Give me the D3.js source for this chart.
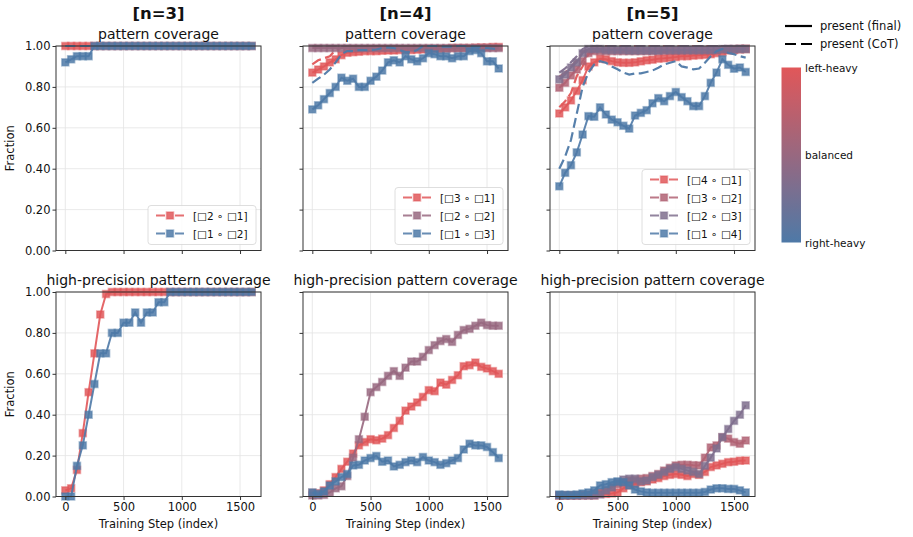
<!DOCTYPE html>
<html>
<head>
<meta charset="utf-8">
<script src="https://cdn.jsdelivr.net/npm/d3@7"></script>
<style>
  body { margin: 0; background: #fff; }
  svg { font-family: "DejaVu Sans", sans-serif; }
</style>
</head>
<body>
<svg id="mainsvg" width="913" height="537"></svg>
<script>
// training steps (x) shared by every series
const steps = [0,50,100,150,200,250,300,350,400,450,500,550,600,650,700,750,800,850,900,950,1000,1050,1100,1150,1200,1250,1300,1350,1400,1450,1500,1550,1600];
const xTicks = [0, 500, 1000, 1500];
const yTicks = [0, 0.2, 0.4, 0.6, 0.8, 1.0];
const colTitles = ['[n=3]', '[n=4]', '[n=5]'];
const rowTitles = ['pattern coverage', 'high-precision pattern coverage'];

const labels3 = ['[□2 ∘ □1]', '[□1 ∘ □2]'];
const labels4 = ['[□3 ∘ □1]', '[□2 ∘ □2]', '[□1 ∘ □3]'];
const labels5 = ['[□4 ∘ □1]', '[□3 ∘ □2]', '[□2 ∘ □3]', '[□1 ∘ □4]'];

// n=3, pattern coverage
const cov3Final21 = [1,1,1,1,1,1,1,1,1,1,1,1,1,1,1,1,1,1,1,1,1,1,1,1,1,1,1,1,1,1,1,1,1];
const cov3Final12 = [0.92,0.935,0.95,0.95,0.95,1,1,1,1,1,1,1,1,1,1,1,1,1,1,1,1,1,1,1,1,1,1,1,1,1,1,1,1];
const cov3Cot21 = [1,1,1,1,1,1,1,1,1,1,1,1,1,1,1,1,1,1,1,1,1,1,1,1,1,1,1,1,1,1,1,1,1];
const cov3Cot12 = [1,1,1,1,1,1,1,1,1,1,1,1,1,1,1,1,1,1,1,1,1,1,1,1,1,1,1,1,1,1,1,1,1];

// n=4, pattern coverage
const cov4Final31 = [0.87,0.885,0.90,0.92,0.935,0.955,0.967,0.97,0.972,0.975,0.975,0.975,0.977,0.978,0.978,0.98,0.98,0.98,0.982,0.983,0.985,0.985,0.985,0.987,0.99,0.99,0.99,0.99,0.992,0.993,0.993,0.995,0.995];
const cov4Final22 = [0.99,0.99,0.99,0.99,0.99,0.99,0.99,0.99,0.99,0.99,0.99,0.99,0.99,0.99,0.99,0.99,0.99,0.99,0.99,0.99,0.99,0.99,0.99,0.99,0.99,0.99,0.99,0.99,0.99,0.99,0.99,0.99,0.99];
const cov4Final13 = [0.69,0.71,0.74,0.77,0.80,0.845,0.83,0.84,0.80,0.80,0.83,0.85,0.88,0.92,0.93,0.92,0.95,0.935,0.925,0.94,0.965,0.96,0.95,0.95,0.94,0.95,0.95,0.975,0.98,0.965,0.925,0.925,0.89];
const cov4Cot31 = [0.91,0.93,0.94,0.95,0.98,0.99,1,1,1,1,1,1,1,1,1,1,1,1,1,1,1,1,1,1,1,1,1,1,1,1,1,1,1];
const cov4Cot22 = [1,1,1,1,1,1,1,1,1,1,1,1,1,1,1,1,1,1,1,1,1,1,1,1,1,1,1,1,1,1,1,1,1];
const cov4Cot13 = [0.82,0.84,0.86,0.885,0.92,0.96,0.975,0.975,0.98,0.98,0.98,0.983,0.99,0.993,0.99,0.98,0.97,0.97,0.98,1,1,1,0.997,0.997,0.997,1,1,0.997,0.997,0.993,0.99,0.987,0.985];

// n=5, pattern coverage
const cov5Final41 = [0.67,0.70,0.734,0.78,0.833,0.90,0.92,0.938,0.935,0.926,0.92,0.918,0.918,0.92,0.925,0.93,0.933,0.938,0.94,0.943,0.946,0.95,0.95,0.953,0.955,0.957,0.96,0.965,0.97,0.978,0.98,0.983,0.985];
const cov5Final32 = [0.796,0.82,0.856,0.885,0.926,0.965,0.975,0.975,0.975,0.975,0.975,0.975,0.975,0.975,0.975,0.975,0.975,0.975,0.977,0.977,0.977,0.977,0.978,0.978,0.978,0.98,0.98,0.98,0.982,0.985,0.985,0.987,0.987];
const cov5Final23 = [0.837,0.86,0.895,0.92,0.965,0.985,0.985,0.985,0.98,0.98,0.98,0.98,0.978,0.978,0.978,0.978,0.978,0.978,0.98,0.98,0.98,0.98,0.98,0.98,0.98,0.98,0.98,0.98,0.985,0.985,0.985,0.985,0.985];
const cov5Final14 = [0.314,0.38,0.417,0.48,0.567,0.657,0.654,0.70,0.665,0.64,0.627,0.61,0.596,0.66,0.673,0.686,0.72,0.745,0.73,0.755,0.775,0.75,0.73,0.706,0.706,0.755,0.82,0.87,0.935,0.908,0.889,0.895,0.873];
const cov5Cot41 = [0.70,0.73,0.77,0.853,0.90,0.96,0.97,0.975,0.975,0.972,0.97,0.97,0.968,0.968,0.97,0.97,0.97,0.97,0.972,0.972,0.975,0.975,0.975,0.975,0.978,0.98,0.98,0.982,0.985,0.99,0.99,0.99,0.99];
const cov5Cot32 = [0.85,0.87,0.90,0.93,0.97,0.99,1,1,1,1,1,1,1,1,1,1,1,1,1,1,1,1,1,1,1,1,1,1,1,1,1,1,1];
const cov5Cot23 = [0.87,0.89,0.92,0.95,0.985,1,1,1,1,1,1,1,1,1,1,1,1,1,1,1,1,1,1,1,1,1,1,1,1,1,1,1,1];
const cov5Cot14 = [0.40,0.46,0.54,0.67,0.80,0.87,0.91,0.926,0.918,0.90,0.886,0.87,0.86,0.866,0.866,0.873,0.88,0.894,0.91,0.918,0.926,0.90,0.894,0.886,0.89,0.918,0.95,0.975,0.985,0.966,0.96,0.95,0.943];

// high-precision pattern coverage
const hp3_21 = [0.03,0.04,0.13,0.31,0.51,0.70,0.89,0.99,1,1,1,1,1,1,1,1,1,1,1,1,1,1,1,1,1,1,1,1,1,1,1,1,1];
const hp3_12 = [0,0,0.15,0.25,0.40,0.55,0.70,0.70,0.80,0.80,0.85,0.85,0.90,0.85,0.90,0.90,0.95,0.95,1,1,1,1,1,1,1,1,1,1,1,1,1,1,1];
const hp4_31 = [0.018,0.016,0.03,0.06,0.095,0.135,0.17,0.21,0.25,0.266,0.28,0.275,0.283,0.30,0.335,0.37,0.42,0.44,0.46,0.487,0.52,0.515,0.557,0.547,0.57,0.593,0.637,0.642,0.655,0.634,0.626,0.613,0.60];
const hp4_22 = [0.005,0.005,0.008,0.02,0.04,0.05,0.10,0.19,0.28,0.39,0.51,0.535,0.56,0.59,0.613,0.59,0.63,0.66,0.66,0.683,0.716,0.74,0.76,0.77,0.756,0.79,0.814,0.82,0.835,0.85,0.838,0.835,0.835];
const hp4_13 = [0.02,0.013,0.025,0.054,0.074,0.095,0.11,0.152,0.155,0.176,0.188,0.198,0.17,0.176,0.147,0.155,0.168,0.176,0.168,0.193,0.176,0.168,0.155,0.163,0.176,0.188,0.23,0.258,0.25,0.25,0.242,0.217,0.188];
const hp5_41 = [0.005,0.005,0.005,0.005,0.005,0.005,0.005,0.013,0.013,0.015,0.02,0.04,0.054,0.06,0.07,0.074,0.083,0.09,0.10,0.106,0.11,0.106,0.10,0.11,0.106,0.12,0.144,0.152,0.16,0.168,0.17,0.175,0.176];
const hp5_32 = [0.005,0.005,0.005,0.005,0.008,0.01,0.015,0.02,0.03,0.045,0.06,0.07,0.078,0.08,0.087,0.09,0.10,0.11,0.127,0.14,0.152,0.155,0.155,0.153,0.152,0.19,0.24,0.25,0.29,0.283,0.266,0.258,0.274];
const hp5_23 = [0.005,0.005,0.005,0.005,0.005,0.005,0.005,0.01,0.03,0.045,0.07,0.083,0.087,0.087,0.074,0.078,0.095,0.106,0.12,0.135,0.144,0.135,0.127,0.12,0.11,0.15,0.19,0.235,0.29,0.33,0.37,0.40,0.446];
const hp5_14 = [0.01,0.008,0.008,0.01,0.015,0.02,0.03,0.054,0.06,0.07,0.074,0.07,0.054,0.034,0.025,0.02,0.018,0.018,0.018,0.018,0.018,0.018,0.018,0.018,0.018,0.022,0.034,0.04,0.04,0.037,0.037,0.03,0.02];

const RED = '#e15759';
const BLUE = '#4e79a7';
const mix = d3.interpolateRgb(RED, BLUE);
const DASH = '10,4.5';

const svg = d3.select('#mainsvg');
const colX = [56, 303, 550];
const rowY = [46, 292];
const pw = 205;
const ph = 204.5;

const x = d3.scaleLinear().domain([-80, 1680]).range([0, pw]);
const y = d3.scaleLinear().domain([0, 1]).range([ph, 0]);

// panel table built from the arrays above
const panels = [
  { col: 0, row: 0, labels: labels3, final: [cov3Final21, cov3Final12], cot: [cov3Cot21, cov3Cot12] },
  { col: 1, row: 0, labels: labels4, final: [cov4Final31, cov4Final22, cov4Final13], cot: [cov4Cot31, cov4Cot22, cov4Cot13] },
  { col: 2, row: 0, labels: labels5, final: [cov5Final41, cov5Final32, cov5Final23, cov5Final14], cot: [cov5Cot41, cov5Cot32, cov5Cot23, cov5Cot14] },
  { col: 0, row: 1, labels: labels3, final: [hp3_21, hp3_12], cot: null },
  { col: 1, row: 1, labels: labels4, final: [hp4_31, hp4_22, hp4_13], cot: null },
  { col: 2, row: 1, labels: labels5, final: [hp5_41, hp5_32, hp5_23, hp5_14], cot: null },
];

const line = d3.line().x((d, i) => x(steps[i])).y(d => y(d));

panels.forEach(p => {
  const g = svg.append('g')
    .attr('transform', `translate(${colX[p.col]}, ${rowY[p.row]})`);
  const k = p.final.length;
  const colors = p.final.map((_, i) => mix(i / (k - 1)));

  // grid
  g.selectAll('.gx').data(xTicks).join('line')
    .attr('x1', d => x(d)).attr('x2', d => x(d))
    .attr('y1', 0).attr('y2', ph)
    .attr('stroke', '#e3e3e3').attr('stroke-width', 0.8);
  g.selectAll('.gy').data(yTicks).join('line')
    .attr('y1', d => y(d)).attr('y2', d => y(d))
    .attr('x1', 0).attr('x2', pw)
    .attr('stroke', '#e3e3e3').attr('stroke-width', 0.8);

  // series
  p.final.forEach((vals, i) => {
    const c = colors[i];
    g.append('path')
      .attr('d', line(vals))
      .attr('fill', 'none')
      .attr('stroke', c)
      .attr('stroke-opacity', 0.9)
      .attr('stroke-width', 2);
    g.selectAll(null).data(vals).join('rect')
      .attr('x', (d, j) => x(steps[j]) - 3.5)
      .attr('y', d => y(d) - 3.5)
      .attr('width', 7).attr('height', 7)
      .attr('fill', c).attr('fill-opacity', 0.85)
      .attr('stroke', c).attr('stroke-opacity', 0.45)
      .attr('stroke-width', 1.6);
    if (p.cot) {
      g.append('path')
        .attr('d', line(p.cot[i]))
        .attr('fill', 'none')
        .attr('stroke', c)
        .attr('stroke-opacity', 0.95)
        .attr('stroke-width', 2.2)
        .attr('stroke-dasharray', DASH);
    }
  });

  // axes
  const ya = g.append('g').call(d3.axisLeft(y).tickValues(yTicks).tickSize(3.5)
    .tickFormat(p.col === 0 ? d3.format('.2f') : ''));
  const xa = g.append('g').attr('transform', `translate(0, ${ph})`)
    .call(d3.axisBottom(x).tickValues(xTicks).tickSize(3.5)
    .tickFormat(p.row === 1 ? d3.format('d') : ''));
  [ya, xa].forEach(a => {
    a.select('.domain').remove();
    a.selectAll('line').attr('stroke', '#333');
    a.selectAll('text').attr('font-size', 11.5).attr('fill', '#111')
      .attr('font-family', '"DejaVu Sans", sans-serif');
  });
  ya.selectAll('text').attr('x', -5.5);
  xa.selectAll('text').attr('y', 6);

  g.append('rect').attr('width', pw).attr('height', ph)
    .attr('fill', 'none').attr('stroke', '#333').attr('stroke-width', 1);

  // titles
  g.append('text').attr('x', pw / 2).attr('y', -7)
    .attr('text-anchor', 'middle').attr('font-size', 14).attr('fill', '#111')
    .text(rowTitles[p.row]);
  if (p.row === 0) {
    g.append('text').attr('x', pw / 2).attr('y', -27)
      .attr('text-anchor', 'middle').attr('font-size', 16.5)
      .attr('font-weight', 'bold').attr('fill', '#111')
      .text(colTitles[p.col]);
  }
  if (p.col === 0) {
    g.append('text')
      .attr('transform', `translate(-42, ${ph / 2}) rotate(-90)`)
      .attr('text-anchor', 'middle').attr('font-size', 11.5).attr('fill', '#111')
      .text('Fraction');
  }
  if (p.row === 1) {
    g.append('text').attr('x', pw / 2).attr('y', ph + 31)
      .attr('text-anchor', 'middle').attr('font-size', 11.5).attr('fill', '#111')
      .text('Training Step (index)');
  }

  // in-panel legend (top row only)
  if (p.row === 0) {
    const bw = 108, bh = 18 * k + 3;
    const lg = g.append('g')
      .attr('transform', `translate(${pw - 5 - bw}, ${ph - 6 - bh})`);
    lg.append('rect').attr('width', bw).attr('height', bh)
      .attr('rx', 3).attr('fill', '#fff').attr('fill-opacity', 0.85)
      .attr('stroke', '#d5d5d5').attr('stroke-width', 0.8);
    p.labels.forEach((lab, i) => {
      const cy = 10 + i * 18;
      lg.append('line').attr('x1', 8).attr('x2', 36).attr('y1', cy).attr('y2', cy)
        .attr('stroke', colors[i]).attr('stroke-opacity', 0.85)
        .attr('stroke-width', 2).attr('stroke-dasharray', '9,10,9');
      lg.append('rect').attr('x', 22 - 3.5).attr('y', cy - 3.5)
        .attr('width', 7).attr('height', 7)
        .attr('fill', colors[i]).attr('fill-opacity', 0.85)
        .attr('stroke', colors[i]).attr('stroke-opacity', 0.45).attr('stroke-width', 1.6);
      lg.append('text').attr('x', 45).attr('y', cy + 4)
        .attr('font-size', 10.5).attr('fill', '#111').text(lab);
    });
  }
});

// figure legend: line styles
const styleLeg = svg.append('g');
[['present (final)', null, 26], ['present (CoT)', '11,5', 44]].forEach(([lab, dash, yy]) => {
  styleLeg.append('line').attr('x1', 785).attr('x2', 812).attr('y1', yy).attr('y2', yy)
    .attr('stroke', '#000').attr('stroke-width', 2.2)
    .attr('stroke-dasharray', dash);
  styleLeg.append('text').attr('x', 820).attr('y', yy + 4)
    .attr('font-size', 11.5).attr('fill', '#111').text(lab);
});

// colour bar
const defs = svg.append('defs');
const grad = defs.append('linearGradient').attr('id', 'cbar')
  .attr('x1', 0).attr('x2', 0).attr('y1', 0).attr('y2', 1);
d3.range(0, 1.001, 0.1).forEach(t => {
  grad.append('stop').attr('offset', t).attr('stop-color', mix(t));
});
const cb = d3.scaleLinear().domain([1, 0]).range([67.5, 242.5]);
svg.append('rect').attr('x', 781.5).attr('y', cb(1)).attr('width', 19.5)
  .attr('height', cb(0) - cb(1)).attr('fill', 'url(#cbar)');
[['left-heavy', 1], ['balanced', 0.5], ['right-heavy', 0]].forEach(([lab, v]) => {
  svg.append('text').attr('x', 805).attr('y', cb(v) + 4)
    .attr('font-size', 10.5).attr('fill', '#111').text(lab);
});
</script>
</body>
</html>
